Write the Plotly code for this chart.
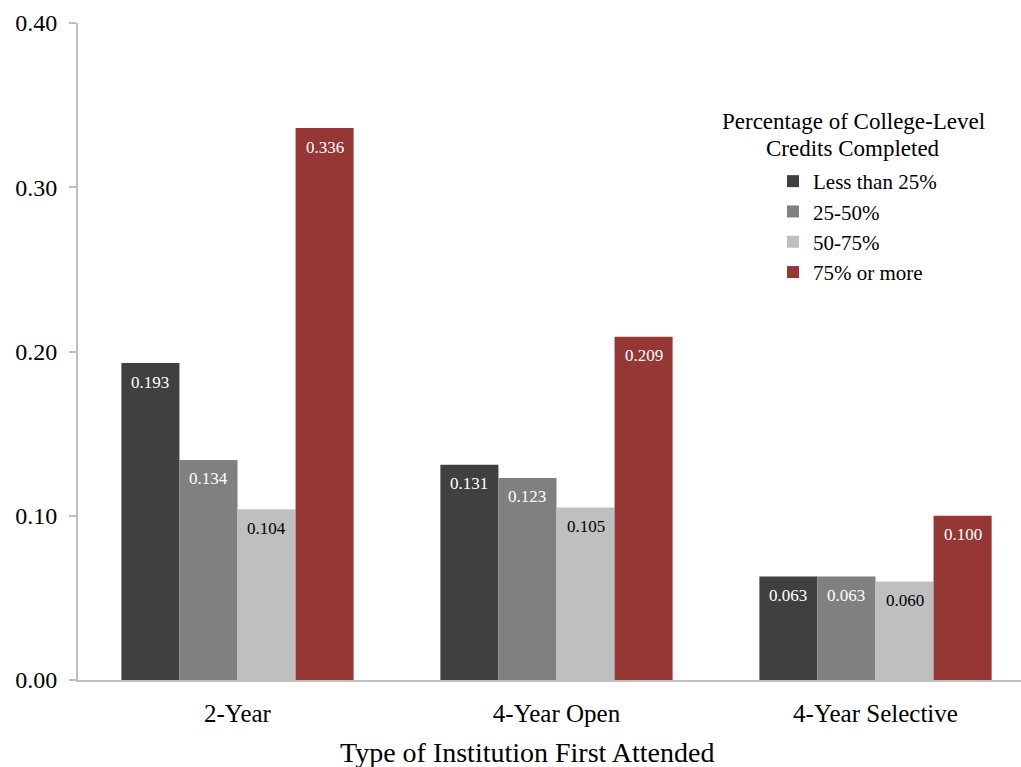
import plotly.graph_objects as go

# Share of students by type of first institution and credit-completion band
categories = ["2-Year", "4-Year Open", "4-Year Selective"]
series_names = ["Less than 25%", "25-50%", "50-75%", "75% or more"]
less_than_25 = [0.193, 0.131, 0.063]
pct_25_50 = [0.134, 0.123, 0.063]
pct_50_75 = [0.104, 0.105, 0.060]
pct_75_plus = [0.336, 0.209, 0.100]
y_ticks = [0.0, 0.1, 0.2, 0.3, 0.4]
legend_heading = ["Percentage of College-Level", "Credits Completed"]
x_title = "Type of Institution First Attended"

series_values = [less_than_25, pct_25_50, pct_50_75, pct_75_plus]
bar_colors = ["#404040", "#808080", "#bfbfbf", "#953735"]
label_colors = ["#ffffff", "#ffffff", "#000000", "#ffffff"]

FONT = "Liberation Serif"
BARGAP = 0.272
n_series = len(series_names)
bar_w = (1 - BARGAP) / n_series

W, H = 1021, 767
L, R, T, B = 78, 0, 23, 87
pw, ph = W - L - R, H - T - B


def px_to_paper(xp, yp):
    return (xp - L) / pw, 1 - (yp - T) / ph


fig = go.Figure()
annotations = []
for s, (name, vals, col, lc) in enumerate(zip(series_names, series_values, bar_colors, label_colors)):
    fig.add_trace(go.Bar(
        x=list(range(len(categories))), y=vals, name=name,
        marker=dict(color=col, line=dict(width=0)),
        hoverinfo="x+y",
    ))
    offset = (s - (n_series - 1) / 2) * bar_w
    for i, v in enumerate(vals):
        annotations.append(dict(
            x=i + offset, y=v, xref="x", yref="y", text=f"{v:.3f}",
            showarrow=False, yshift=-19, xanchor="center", yanchor="middle",
            font=dict(family=FONT, size=17, color=lc),
        ))

# legend heading, two centred lines
for line, yp in zip(legend_heading, [122, 148]):
    xa, ya = px_to_paper(853, yp)
    annotations.append(dict(
        x=xa, y=ya, xref="paper", yref="paper", text=line,
        showarrow=False, xanchor="center", yanchor="middle",
        font=dict(family=FONT, size=23, color="#000000"),
    ))

# axis title
xa, ya = px_to_paper(527, 752)
annotations.append(dict(
    x=xa, y=ya, xref="paper", yref="paper", text=x_title,
    showarrow=False, xanchor="center", yanchor="middle",
    font=dict(family=FONT, size=28, color="#000000"),
))

lx, ly = px_to_paper(773, 161)
fig.update_layout(
    width=W, height=H,
    margin=dict(l=L, r=R, t=T, b=B, pad=0),
    barmode="group", bargap=BARGAP, bargroupgap=0,
    plot_bgcolor="#ffffff", paper_bgcolor="#ffffff",
    font=dict(family=FONT, color="#000000"),
    showlegend=True,
    legend=dict(
        x=lx, y=ly, xanchor="left", yanchor="top",
        font=dict(family=FONT, size=21, color="#000000"),
        bgcolor="rgba(0,0,0,0)", itemclick=False, itemdoubleclick=False,
        tracegroupgap=0,
    ),
    annotations=annotations,
)
fig.update_xaxes(
    range=[-0.5, -0.5 + pw / 319.0],
    tickmode="array", tickvals=list(range(len(categories))), ticktext=categories,
    tickfont=dict(family=FONT, size=25, color="#000000"),
    showline=True, linecolor="#bfbfbf", linewidth=2, showgrid=False,
    ticks="", ticklabelstandoff=10, zeroline=False, fixedrange=True,
)
fig.update_yaxes(
    range=[0, 0.40], tickvals=y_ticks, tickformat=".2f",
    tickfont=dict(family=FONT, size=24, color="#000000"),
    showline=True, linecolor="#bfbfbf", linewidth=2, showgrid=False,
    ticks="outside", ticklen=7, tickcolor="#bfbfbf", tickwidth=2,
    ticklabelstandoff=7, zeroline=False, fixedrange=True,
)

fig.write_html("out.html", config={"displayModeBar": False})
